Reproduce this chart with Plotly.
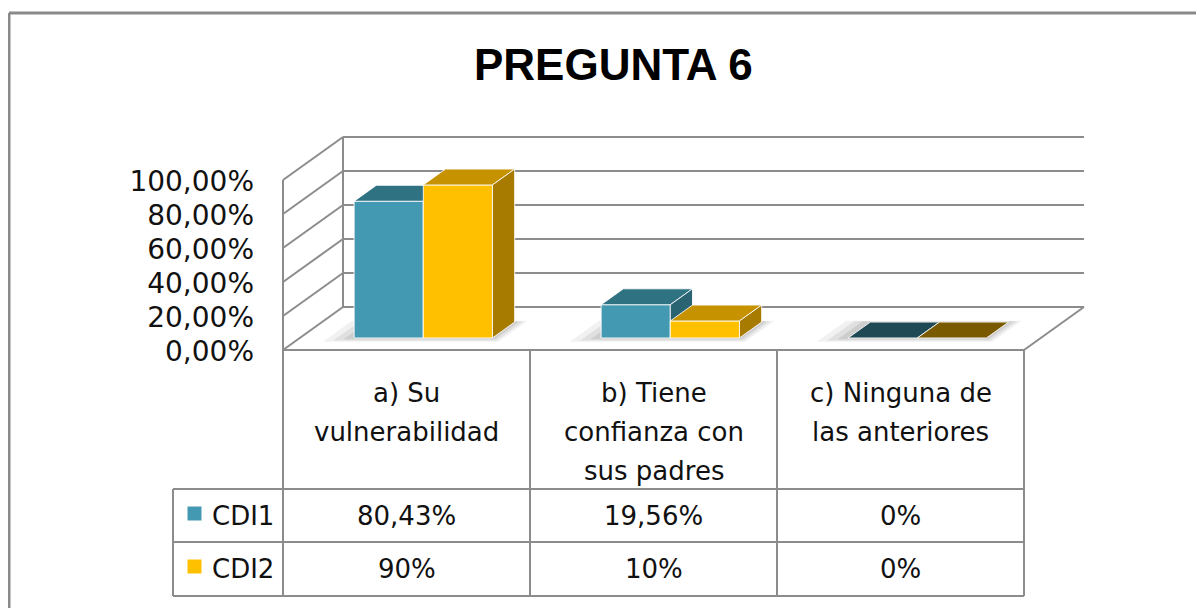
import plotly.graph_objects as go

# ---------------- data ----------------
title_text = "PREGUNTA 6"
category_lines = [["a) Su", "vulnerabilidad"],
                  ["b) Tiene", "confianza con", "sus padres"],
                  ["c) Ninguna de", "las anteriores"]]
series_names = ["CDI1", "CDI2"]
cdi1_values = [80.43, 19.56, 0.0]
cdi2_values = [90.0, 10.0, 0.0]
cdi1_labels = ["80,43%", "19,56%", "0%"]
cdi2_labels = ["90%", "10%", "0%"]
y_ticks = [0, 20, 40, 60, 80, 100]

# ---------------- styles ----------------
front_cols = ["#4399B1", "#FFC000"]
top_cols = ["#2F7282", "#C69200"]
side_cols = ["#2A6472", "#A67B00"]
base_cols = ["#1F4A55", "#7A5A00"]
grid_col = "#8c8c8c"
txt_col = "#111111"
FONT = "DejaVu Sans"

# ---------------- geometry (page pixel frame -> data units) ----------------
FIG_W, FIG_H = 1204, 608
PAGE_OFF = 8                      # default body margin of the html page
X0_PX, CAT_PX = 283.0, 247.0      # front-left edge of the plot, width of one category
Y0_PX, PCT_PX = 350.0, 1.70       # front floor line, pixels per percent
DEPTH_DX_PX, DEPTH_DY_PX = 60.0, 43.0
TICK_LABEL_DROP_PX = 4


def X(px):
    return (px - X0_PX) / CAT_PX - 0.5


def Y(py):
    return (Y0_PX - py) / PCT_PX


DXU = DEPTH_DX_PX / CAT_PX
DYU = DEPTH_DY_PX / PCT_PX


def P(x, y, d):
    return (x + d * DXU, y + d * DYU)


n_cat = len(category_lines)
XL, XR = -0.5, n_cat - 0.5
BAR_W = 0.28
D0, D1 = 0.28, 0.65

fig = go.Figure()


def poly(points, fill, line_col="rgba(255,255,255,0.85)", lw=1.0, opacity=1.0):
    xs = [p[0] for p in points] + [points[0][0]]
    ys = [p[1] for p in points] + [points[0][1]]
    fig.add_trace(go.Scatter(x=xs, y=ys, mode="lines", fill="toself", fillcolor=fill,
                             line=dict(color=line_col, width=lw), opacity=opacity,
                             hoverinfo="skip", showlegend=False))


def lines(segments, color, width):
    xs, ys = [], []
    for a, b in segments:
        xs += [a[0], b[0], None]
        ys += [a[1], b[1], None]
    fig.add_trace(go.Scatter(x=xs, y=ys, mode="lines", line=dict(color=color, width=width),
                             hoverinfo="skip", showlegend=False))


# outer chart frame
lines([((X(9), Y(FIG_H + 20)), (X(9), Y(13))), ((X(9), Y(13)), (X(FIG_W + 20), Y(13)))],
      "#8a8a8a", 3)

# walls and floor of the 3D plot area
segs = []
for k in y_ticks:
    segs.append((P(XL, k, 1), P(XR, k, 1)))        # back wall gridline
    segs.append((P(XL, k, 0), P(XL, k, 1)))        # side wall diagonal
segs.append((P(XL, 0, 0), P(XL, max(y_ticks), 0)))
segs.append((P(XL, 0, 1), P(XL, max(y_ticks), 1)))
segs.append((P(XL, 0, 0), P(XR, 0, 0)))
segs.append((P(XR, 0, 0), P(XR, 0, 1)))
lines(segs, grid_col, 2)

# soft shadows under bars
for i in range(n_cat):
    for ext, op in [(0.075, 0.10), (0.05, 0.14), (0.025, 0.18)]:
        x0 = i - BAR_W - ext * 1.4
        x1 = i + BAR_W + ext * 0.6
        poly([P(x0, 0, D0 - ext * 1.2), P(x1, 0, D0 - ext * 1.2),
              P(x1, 0, D1 + ext * 0.4), P(x0, 0, D1 + ext * 0.4)],
             "#7a7a7a", line_col="rgba(0,0,0,0)", lw=0, opacity=op)

# bars
for i in range(n_cat):
    for s, vals in enumerate([cdi1_values, cdi2_values]):
        v = vals[i]
        x0 = i - BAR_W + s * BAR_W
        x1 = x0 + BAR_W
        if v <= 0:
            poly([P(x0, 0, D0), P(x1, 0, D0), P(x1, 0, D1), P(x0, 0, D1)], base_cols[s])
            continue
        poly([P(x0, 0, D0), P(x1, 0, D0), P(x1, v, D0), P(x0, v, D0)], front_cols[s])
        poly([P(x0, v, D0), P(x1, v, D0), P(x1, v, D1), P(x0, v, D1)], top_cols[s])
        poly([P(x1, 0, D0), P(x1, 0, D1), P(x1, v, D1), P(x1, v, D0)], side_cols[s])

# y axis labels
fig.add_trace(go.Scatter(
    x=[X(254)] * len(y_ticks),
    y=[k - TICK_LABEL_DROP_PX / PCT_PX for k in y_ticks], mode="text",
    text=[f"{k:.2f}".replace(".", ",") + "%" for k in y_ticks],
    textposition="middle left", textfont=dict(family=FONT, size=28, color=txt_col),
    hoverinfo="skip", showlegend=False))

# data table
ROW_TOP, ROW_MID, ROW_BOT = Y(489), Y(542), Y(596)
KEY_L = X(173)
tsegs = [((KEY_L, ROW_TOP), (XR, ROW_TOP)), ((KEY_L, ROW_MID), (XR, ROW_MID)),
         ((KEY_L, ROW_BOT), (XR, ROW_BOT)), ((KEY_L, ROW_TOP), (KEY_L, ROW_BOT))]
for j in range(n_cat + 1):
    tsegs.append(((XL + j, 0), (XL + j, ROW_BOT)))
lines(tsegs, grid_col, 2)

annots = []
LINE_PX = 39
for i, lns in enumerate(category_lines):
    for j, t in enumerate(lns):
        annots.append(dict(x=i, y=Y(393 + j * LINE_PX), text=t, showarrow=False,
                           xanchor="center", yanchor="middle",
                           font=dict(family=FONT, size=26, color=txt_col)))

row_centers = [Y(516), Y(569)]
for s, labels in enumerate([cdi1_labels, cdi2_labels]):
    for i, t in enumerate(labels):
        annots.append(dict(x=i, y=row_centers[s], text=t, showarrow=False,
                           xanchor="center", yanchor="middle",
                           font=dict(family=FONT, size=26, color=txt_col)))
    annots.append(dict(x=X(210), y=row_centers[s], text=series_names[s], showarrow=False,
                       xanchor="left", yanchor="middle",
                       font=dict(family=FONT, size=26, color=txt_col)))

fig.add_trace(go.Scatter(x=[X(194.5)] * 2, y=[Y(513.5), Y(566.5)], mode="markers",
                         marker=dict(symbol="square", size=14, color=front_cols,
                                     line=dict(width=0)),
                         hoverinfo="skip", showlegend=False))

annots.append(dict(x=X(613), y=Y(64), text="<b>" + title_text + "</b>", showarrow=False,
                   xanchor="center", yanchor="middle",
                   font=dict(family="Liberation Sans, Arial", size=44, color="#000000")))

fig.update_layout(
    width=FIG_W, height=FIG_H,
    margin=dict(l=0, r=0, t=0, b=0),
    paper_bgcolor="white", plot_bgcolor="white",
    xaxis=dict(range=[X(PAGE_OFF), X(PAGE_OFF + FIG_W)], visible=False, fixedrange=True),
    yaxis=dict(range=[Y(PAGE_OFF + FIG_H), Y(PAGE_OFF)], visible=False, fixedrange=True),
    annotations=annots,
    showlegend=False,
    hovermode=False,
)

fig.write_html("out.html")
